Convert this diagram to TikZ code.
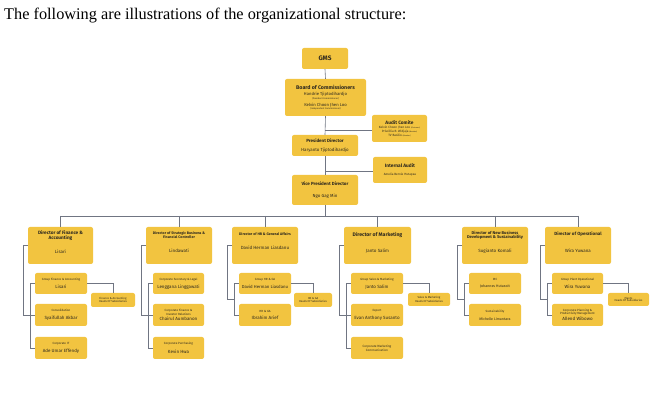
\documentclass[tikz,border=0pt]{standalone}
\usepackage{fontspec}
\setmainfont{Liberation Serif}
\setsansfont{Fira Sans}
\usetikzlibrary{calc}
\definecolor{boxc}{RGB}{242,196,64}
\definecolor{linec}{RGB}{112,117,130}
\definecolor{txt}{RGB}{45,40,30}
\newcommand\fsz[1]{\fontsize{#1}{#1}\selectfont}
\begin{document}
\begin{tikzpicture}[x=1pt,y=-1pt,
  box/.style={fill=boxc, rounded corners=2pt, align=center, inner sep=1pt, text=txt, font={\sffamily\fontsize{2}{2}\selectfont\lineskip=0.4pt}},
  dirbox/.style={box, minimum width=66, minimum height=37},
  kid/.style={box, minimum width=52, minimum height=22},
  subs/.style={box, minimum height=14},
  ln/.style={draw=linec, line width=0.6pt}]
\useasboundingbox[fill=white] (0,0) rectangle (670,406);
\node[anchor=base west, inner sep=0, font=\fontsize{16.3}{19}\selectfont] (cap) at (4,19.5) {The following are illustrations of the organizational structure:};

% top chain
\node[box, minimum width=46, minimum height=21] (gms) at (325,58.5) {\fsz{6.5}\bfseries GMS};
\node[box, minimum width=81, minimum height=37] (board) at (325.5,97.5) {\fsz{5.3}\bfseries Board of Commissioners\\[3pt]
  \fsz{4.2}Handrie Tjiptodihardjo\\[0.3pt]\fsz{2.3}(President Commissioner)\\[3.2pt]
  \fsz{4.2}Kelvin Choon Jhen Loo\\[0.3pt]\fsz{2.3}(Independent Commissioner)};
\node[box, minimum width=55, minimum height=27] (audit) at (399.5,128.5) {\fsz{4.8}\bfseries Audit Comite\\[0.8pt]
  \fsz{3.1}Kelvin Choon Jhen Loo {\fsz{1.8}(Chairman)}\\[0.5pt]
  \fsz{3.1}Priscillia R. Widjaja {\fsz{1.8}(Member)}\\[0.5pt]
  \fsz{3.1}TV Basilio {\fsz{1.8}(Member)}};
\node[box, minimum width=66, minimum height=21] (pres) at (325,145.5) {\fsz{4.5}\bfseries President Director\\[5.5pt]\fsz{4.4}Haryanto Tjiptodihardjo};
\node[box, minimum width=54, minimum height=26] (iaud) at (400,170) {\fsz{4.8}\bfseries Internal Audit\\[5pt]\fsz{3.1}Amelia Bernie Hutapea};
\node[box, minimum width=66, minimum height=30] (vp) at (325,190) {\fsz{4.5}\bfseries Vice President Director\\[8pt]\fsz{4.4}Ngo Gag Min};

\draw[ln] (gms.south) -- (board.north);
\draw[ln] (board.south) -- (pres.north);
\draw[ln] (pres.south) -- (vp.north);
\coordinate (aj) at (325,130);
\coordinate (ij) at (325,171);
\draw[ln] (aj) -- (audit.west |- aj);
\draw[ln] (ij) -- (iaud.west |- ij);
\coordinate (busL) at (60.5,216);
\coordinate (busR) at (578,216);
\draw[ln] (vp.south) -- (vp.south |- busL);
\draw[ln] (busL) -- (busR);

% directors
\node[dirbox, minimum width=65] (fin) at (60.5,245.5) {\fsz{4.7}\bfseries Director of Finance \&\\[0.8pt]\fsz{4.7}\bfseries Accounting\\[9pt]\fsz{4.5}Lisari\\[5pt]};
\node[dirbox] (str) at (179,245.5) {\fsz{3.6}\bfseries Director of Strategic Business \&\\[0.5pt]\fsz{3.6}\bfseries Financial Controller\\[10pt]\fsz{4.5}Lindawati\\[5pt]};
\node[dirbox] (hr) at (265,245.5) {\fsz{3.6}\bfseries Director of HR \& General Affairs\\[10pt]\fsz{4.5}David Herman Liasdanu\\[6pt]};
\node[dirbox, minimum width=67] (mkt) at (377.5,245.5) {\fsz{5.1}\bfseries Director of Marketing\\[11pt]\fsz{4.5}Janto Salim\\[4pt]};
\node[dirbox] (nb) at (495,245.5) {\fsz{4.1}\bfseries Director of New Business\\[0.5pt]\fsz{4.1}\bfseries Development \& Sustainability\\[9pt]\fsz{4.5}Sugianto Komali\\[5pt]};
\node[dirbox] (ops) at (578,245.5) {\fsz{4.5}\bfseries Director of Operational\\[12pt]\fsz{4.5}Wira Yuwana\\[4pt]};
\foreach \d in {fin,str,hr,mkt,nb,ops} \draw[ln] (\d.north |- busL) -- (\d.north);

% finance children
\node[kid, minimum height=21] (fgrp) at (61,283.5) {\fsz{3}Group Finance \& Accounting\\[3.5pt]\fsz{4.5}Lisari};
\node[kid] (fcon) at (61,315) {\fsz{3}Consolidation\\[4pt]\fsz{4.5}Syaifullah Akbar};
\node[kid] (fit) at (61,348) {\fsz{3}Corporate IT\\[4pt]\fsz{4.5}Ade Umar Effendy};
\node[subs, minimum width=44] (fhs) at (113,300) {\fsz{2.8}Finance \& Accounting\\[0.3pt]\fsz{2.8}Heads Of Subsidiaries};
\draw[ln] (fin.west) -- ++(-5,0) |- (fcon.west);
\draw[ln] (fgrp.west) -- ++(-5,0) |- (fit.west);
\draw[ln] (fgrp.east) -| (fhs.north);

% strategic children
\node[kid, minimum width=51, minimum height=21] (ssec) at (178.5,283.5) {\fsz{3}Corporate Secretary \& Legal\\[3.5pt]\fsz{4.5}Lenggana Linggawati};
\node[kid, minimum width=51] (sfin) at (178.5,315) {\fsz{3}Corporate Finance \&\\[0.2pt]\fsz{3}Investor Relations\\[1.5pt]\fsz{4.5}Chairul Aumbanon};
\node[kid, minimum width=51] (spur) at (178.5,348) {\fsz{3}Corporate Purchasing\\[4pt]\fsz{4.5}Kevin Hwa};
\draw[ln] (str.west) -- ++(-5,0) |- (sfin.west);
\draw[ln] (ssec.west) -- ++(-5,0) |- (spur.west);

% HR children
\node[kid, minimum height=21] (hgrp) at (265,283.5) {\fsz{3}Group HR \& GA\\[3.5pt]\fsz{4.3}David Herman Liasdanu};
\node[kid] (hga) at (265,315) {\fsz{3}HR \& GA\\[4pt]\fsz{4.5}Ibrahim Arief};
\node[subs, minimum width=38] (hhs) at (313,300) {\fsz{2.8}HR \& GA\\[0.3pt]\fsz{2.8}Heads Of Subsidiaries};
\draw[ln] (hr.west) -- ++(-5,0) |- ($(hgrp.west)!0.5!(hga.west)+(-5,0)$);
\draw[ln] (hgrp.west) -- ++(-5,0) |- (hga.west);
\draw[ln] (hgrp.east) -| (hhs.north);

% marketing children
\node[kid, minimum height=21] (mgrp) at (377,283.5) {\fsz{3}Group Sales \& Marketing\\[3.5pt]\fsz{4.5}Janto Salim};
\node[kid] (mexp) at (377,315) {\fsz{3}Export\\[4pt]\fsz{4.5}Evan Anthony Susanto};
\node[kid] (mcom) at (377,348) {\fsz{3.1}Corporate Marketing\\[0.3pt]\fsz{3.1}Communication};
\node[subs, minimum width=42, minimum height=13] (mhs) at (429,299.5) {\fsz{2.8}Sales \& Marketing\\[0.3pt]\fsz{2.8}Heads Of Subsidiaries};
\draw[ln] (mkt.west) -- ++(-5,0) |- (mexp.west);
\draw[ln] (mgrp.west) -- ++(-5,0) |- (mcom.west);
\draw[ln] (mgrp.east) -| (mhs.north);

% new business children
\node[kid, minimum height=21] (nirc) at (495,283.5) {\fsz{3}IRC\\[4pt]\fsz{3.6}Johannes Hutasoit};
\node[kid] (nsus) at (495,315) {\fsz{3}Sustainability\\[4pt]\fsz{3.6}Michelle Limantara};
\draw[ln] (nb.west) -- ++(-5,0) |- ($(nirc.west)!0.5!(nsus.west)+(-5,0)$);
\draw[ln] (nirc.west) -- ++(-5,0) |- (nsus.west);

% operational children
\node[kid, minimum width=51, minimum height=21] (ogrp) at (577.5,283.5) {\fsz{3}Group Plant Operational\\[3.5pt]\fsz{4.5}Wira Yuwana};
\node[kid, minimum width=51] (opl) at (577.5,315) {\fsz{3}Corporate Planning \&\\[0.2pt]\fsz{3}Productivity Management\\[1.5pt]\fsz{4.5}Allend Wibowo};
\node[subs, minimum width=41, minimum height=13] (ohs) at (628.5,299.5) {\fsz{2.8}Plants\\[0.3pt]\fsz{2.8}Heads Of Subsidiaries};
\draw[ln] (ops.west) -- ++(-5,0) |- ($(ogrp.west)!0.5!(opl.west)+(-5,0)$);
\draw[ln] (ogrp.west) -- ++(-5,0) |- (opl.west);
\draw[ln] (ogrp.east) -| (ohs.north);
\end{tikzpicture}
\end{document}
